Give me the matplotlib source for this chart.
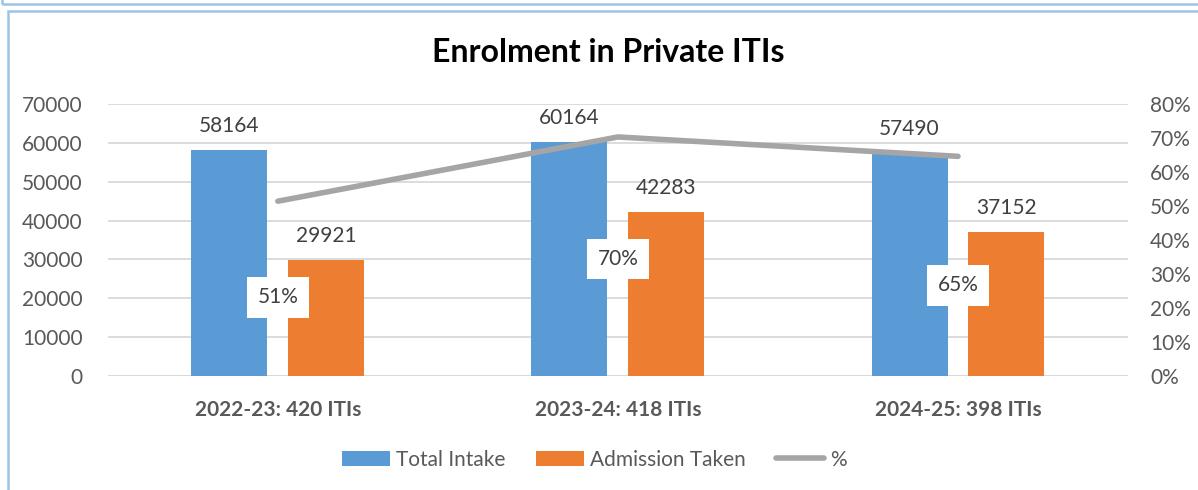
import matplotlib
matplotlib.use("Agg")
import matplotlib.pyplot as plt
import numpy as np
from matplotlib.patches import Rectangle
from matplotlib.lines import Line2D

plt.rcParams.update({
    "font.family": ["Lato", "DejaVu Sans"],
    "font.size": 15,
})

categories = ["2022-23: 420 ITIs", "2023-24: 418 ITIs", "2024-25: 398 ITIs"]
total_intake = [58164, 60164, 57490]
admission_taken = [29921, 42283, 37152]
pct = [0.514, 0.703, 0.646]
pct_labels = ["51%", "70%", "65%"]
# label drop below the line point, in pixels (labels were moved by hand)
label_drop = [96, 122, 129]

BLUE = "#5B9BD5"
ORANGE = "#ED7D31"
GRAY = "#A5A5A5"
TXT = "#595959"
LBL = "#404040"
FRAME = "#9DC3E6"

fig = plt.figure(figsize=(11.98, 4.90), dpi=100)
ax = fig.add_axes([0.090, 0.2327, 0.8516, 0.5551])
ax2 = ax.twinx()

x = np.arange(len(categories))
w = 0.2235
off = 0.1425
b1 = ax.bar(x - off, total_intake, w, color=BLUE, label="Total Intake", zorder=2)
b2 = ax.bar(x + off, admission_taken, w, color=ORANGE, label="Admission Taken", zorder=2)
for bars in (b1, b2):
    for r in bars:
        ax.annotate(f"{int(r.get_height())}", (r.get_x() + r.get_width() / 2, r.get_height()),
                    xytext=(0, 10), textcoords="offset points", ha="center", va="bottom",
                    fontsize=15, color=LBL)

ax2.plot(x, pct, color=GRAY, lw=4, solid_capstyle="round", zorder=3)
for xi, yi, s, d in zip(x, pct, pct_labels, label_drop):
    ax2.annotate(s, (xi, yi), xytext=(0, -d * 0.72), textcoords="offset points",
                 ha="center", va="center", fontsize=15, color=LBL,
                 bbox=dict(boxstyle="square,pad=0.5", fc="white", ec="none"), zorder=5)

ax.set_xlim(-0.5, 2.5)
ax.set_ylim(0, 70000)
ax.set_yticks(np.arange(0, 70001, 10000))
ax2.set_ylim(0, 0.8)
ax2.set_yticks(np.arange(0, 0.81, 0.1))
ax2.set_yticklabels([f"{int(round(v * 100))}%" for v in np.arange(0, 0.81, 0.1)])
ax.set_xticks(x)
ax.set_xticklabels(categories, fontweight="bold", color=TXT, fontsize=15)
ax.tick_params(axis="x", length=0, pad=17)
ax.tick_params(axis="y", length=0, pad=18, labelcolor=TXT, labelsize=15)
ax2.tick_params(axis="y", length=0, pad=16, labelcolor=TXT, labelsize=15)
ax.grid(axis="y", color="#D9D9D9", lw=1.3, zorder=0)
ax.set_axisbelow(True)
for a in (ax, ax2):
    for sp in a.spines.values():
        sp.set_visible(False)
ax.axhline(0, color="#D9D9D9", lw=1.3, zorder=1)

fig.text(0.5075, 0.893, "Enrolment in Private ITIs", ha="center", va="center",
         fontsize=23, fontweight="bold", color="black")

handles = [b1, b2, Line2D([0], [0], color=GRAY, lw=4, solid_capstyle="round")]
fig.legend(handles, ["Total Intake", "Admission Taken", "%"], loc="center",
           bbox_to_anchor=(0.496, 0.062), ncol=3, frameon=False, fontsize=15,
           labelcolor=TXT, handlelength=2.3, handleheight=0.7, columnspacing=1.45,
           handletextpad=0.3)

# frames around the chart (the chart box and the bottom of the box above)
fig.add_artist(Rectangle((8 / 1198, -0.05), 1.2, (490 - 11) / 490 + 0.05,
                         transform=fig.transFigure, fill=False, ec=FRAME, lw=1.8))
fig.add_artist(Rectangle((2 / 1198, (490 - 4) / 490), 1.2, 0.5,
                         transform=fig.transFigure, fill=False, ec=FRAME, lw=1.8))

fig.savefig("out.png", dpi=100, facecolor="white")
